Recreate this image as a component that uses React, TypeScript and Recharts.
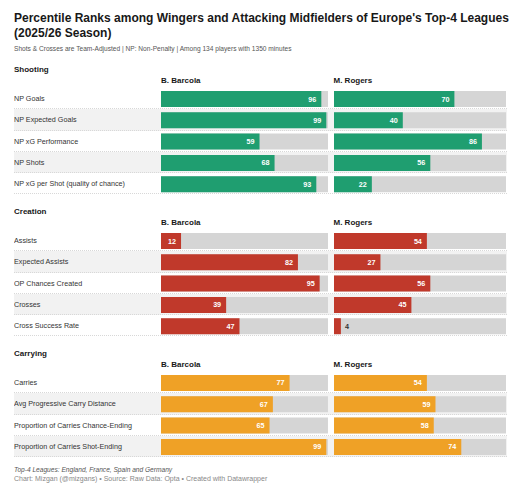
import React from 'react';
import { BarChart, Bar, XAxis, YAxis, LabelList } from 'recharts';

const players = ['B. Barcola', 'M. Rogers'];

const shootingMetrics = ['NP Goals', 'NP Expected Goals', 'NP xG Performance', 'NP Shots', 'NP xG per Shot (quality of chance)'];
const shootingBarcola = [96, 99, 59, 68, 93];
const shootingRogers = [70, 40, 86, 56, 22];

const creationMetrics = ['Assists', 'Expected Assists', 'OP Chances Created', 'Crosses', 'Cross Success Rate'];
const creationBarcola = [12, 82, 95, 39, 47];
const creationRogers = [54, 27, 56, 45, 4];

const carryingMetrics = ['Carries', 'Avg Progressive Carry Distance', 'Proportion of Carries Chance-Ending', 'Proportion of Carries Shot-Ending'];
const carryingBarcola = [77, 67, 65, 99];
const carryingRogers = [54, 59, 58, 74];

const FONT = '"Liberation Sans", Arial, Helvetica, sans-serif';
const ROW_H = 21.3;
const BAR_H = 16;
const SECTION_GAP = 35.5;
const TRACK = '#d5d5d5';

const LEFT_X = 14;
const LABEL_W = 147;
const LEFT_PLOT_W = 167;
const RIGHT_X = 333.5;
const RIGHT_PLOT_W = 172;
const STRIPE_END = 507;

const RowTick = ({ y, payload }: any) => (
  <text x={0} y={y} dy={2.5} fontSize={7.2} fill="#333" fontFamily={FONT}>
    {payload.value}
  </text>
);

const ValueLabel = (props: any) => {
  const { x, y, width, height, value } = props;
  const inside = width > 14;
  return (
    <text
      x={inside ? x + width - 5 : x + width + 4}
      y={y + height / 2}
      dy={2.5}
      textAnchor={inside ? 'end' : 'start'}
      fill={inside ? '#fff' : '#333'}
      fontSize={7.2}
      fontWeight={700}
      fontFamily={FONT}
    >
      {value}
    </text>
  );
};

type SectionProps = {
  title: string;
  metrics: string[];
  a: number[];
  b: number[];
  color: string;
  top: number;
};

const Section = ({ title, metrics, a, b, color, top }: SectionProps) => {
  const rows = metrics.map((metric, i) => ({ metric, a: a[i], b: b[i] }));
  const h = rows.length * ROW_H;
  const common = {
    layout: 'vertical' as const,
    height: h,
    data: rows,
    margin: { top: 0, right: 0, bottom: 0, left: 0 },
    barSize: BAR_H,
  };
  return (
    <>
      <div style={{ position: 'absolute', left: LEFT_X, top: top - 23, fontSize: 8, fontWeight: 700, color: '#181818' }}>
        {title}
      </div>
      <div style={{ position: 'absolute', left: LEFT_X + LABEL_W, top: top - 12, fontSize: 8, fontWeight: 700, color: '#181818' }}>
        {players[0]}
      </div>
      <div style={{ position: 'absolute', left: RIGHT_X, top: top - 12, fontSize: 8, fontWeight: 700, color: '#181818' }}>
        {players[1]}
      </div>
      {rows.map((r, i) => (
        <div
          key={r.metric}
          style={{
            position: 'absolute',
            left: LEFT_X,
            top: top + i * ROW_H,
            width: STRIPE_END - LEFT_X,
            height: ROW_H,
            boxSizing: 'border-box',
            background: i % 2 === 1 ? '#f2f2f2' : 'transparent',
            borderBottom: '1px dotted #d8d8d8',
          }}
        />
      ))}
      <div style={{ position: 'absolute', left: LEFT_X, top }}>
        <BarChart {...common} width={LABEL_W + LEFT_PLOT_W}>
          <XAxis type="number" domain={[0, 100]} hide />
          <YAxis
            type="category"
            dataKey="metric"
            width={LABEL_W}
            interval={0}
            axisLine={false}
            tickLine={false}
            tick={<RowTick />}
          />
          <Bar dataKey="a" fill={color} background={{ fill: TRACK }} isAnimationActive={false}>
            <LabelList dataKey="a" content={<ValueLabel />} />
          </Bar>
        </BarChart>
      </div>
      <div style={{ position: 'absolute', left: RIGHT_X, top }}>
        <BarChart {...common} width={RIGHT_PLOT_W}>
          <XAxis type="number" domain={[0, 100]} hide />
          <YAxis type="category" dataKey="metric" hide />
          <Bar dataKey="b" fill={color} background={{ fill: TRACK }} isAnimationActive={false}>
            <LabelList dataKey="b" content={<ValueLabel />} />
          </Bar>
        </BarChart>
      </div>
    </>
  );
};

export default function App() {
  const top1 = 88;
  const top2 = top1 + shootingMetrics.length * ROW_H + SECTION_GAP;
  const top3 = top2 + creationMetrics.length * ROW_H + SECTION_GAP;
  return (
    <div
      style={{
        position: 'absolute',
        left: 0,
        top: 0,
        width: 524,
        height: 500,
        background: '#fff',
        fontFamily: FONT,
        lineHeight: 1.2,
      }}
    >
      <div style={{ position: 'absolute', left: LEFT_X, top: 11, width: 500, fontSize: 12, fontWeight: 700, color: '#181818', lineHeight: '15px' }}>
        Percentile Ranks among Wingers and Attacking Midfielders of Europe's Top-4 Leagues (2025/26 Season)
      </div>
      <div style={{ position: 'absolute', left: LEFT_X, top: 45, fontSize: 6.6, color: '#555' }}>
        Shots &amp; Crosses are Team-Adjusted | NP: Non-Penalty | Among 134 players with 1350 minutes
      </div>
      <Section title="Shooting" metrics={shootingMetrics} a={shootingBarcola} b={shootingRogers} color="#1f9e70" top={top1} />
      <Section title="Creation" metrics={creationMetrics} a={creationBarcola} b={creationRogers} color="#c0392b" top={top2} />
      <Section title="Carrying" metrics={carryingMetrics} a={carryingBarcola} b={carryingRogers} color="#efa126" top={top3} />
      <div style={{ position: 'absolute', left: LEFT_X, top: 466, fontSize: 6.6, color: '#555', fontStyle: 'italic' }}>
        Top-4 Leagues: England, France, Spain and Germany
      </div>
      <div style={{ position: 'absolute', left: LEFT_X, top: 475, fontSize: 7, color: '#888' }}>
        Chart: Mizgan (@mizgans) • Source: Raw Data: Opta • Created with Datawrapper
      </div>
    </div>
  );
}
